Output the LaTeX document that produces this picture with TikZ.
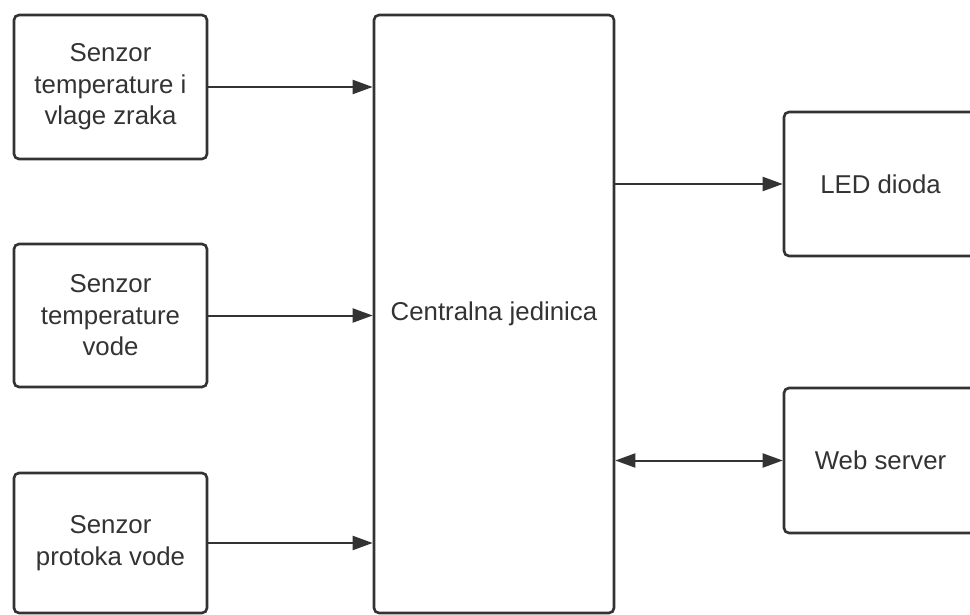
\documentclass[tikz,border=0pt]{standalone}
\usepackage{fontspec}
\setmainfont{Liberation Sans}
\usetikzlibrary{arrows.meta}
\definecolor{ink}{HTML}{333333}
\begin{document}
\begin{tikzpicture}[x=1pt,y=-1pt,
  box/.style={draw=ink, line width=2.6pt, rounded corners=5pt, fill=white,
    text=ink, font=\fontsize{25.8}{31.5}\selectfont, align=center,
    inner sep=0pt, minimum width=193pt},
  arr/.style={draw=ink, line width=2pt, -{Triangle[length=20pt,width=14pt]}},
  darr/.style={draw=ink, line width=2pt, {Triangle[length=20pt,width=14pt]}-{Triangle[length=20pt,width=14pt]}}]
\useasboundingbox (0,0) rectangle (970,615);
\clip (0,0) rectangle (970,615);
\node[box, minimum height=144pt] (b1) at (110.5,87) {Senzor\\temperature i\\vlage zraka};
\node[box, minimum height=143pt] (b2) at (110.5,315.5) {Senzor\\temperature\\vode};
\node[box, minimum height=140pt] (b3) at (110.5,543) {Senzor\\protoka vode};
\node[box, minimum width=240pt, minimum height=598pt] (c) at (494,314) {Centralna jedinica};
\node[box, minimum height=144pt] (led) at (880.5,184) {LED dioda};
\node[box, minimum height=145pt] (web) at (880.5,460.5) {Web server};
\draw[arr] (b1.east) -- (b1.east -| c.west);
\draw[arr] (b2.east) -- (b2.east -| c.west);
\draw[arr] (b3.east) -- (b3.east -| c.west);
\draw[arr] (led.west -| c.east) -- (led.west);
\draw[darr] (web.west -| c.east) -- (web.west);
\end{tikzpicture}
\end{document}
